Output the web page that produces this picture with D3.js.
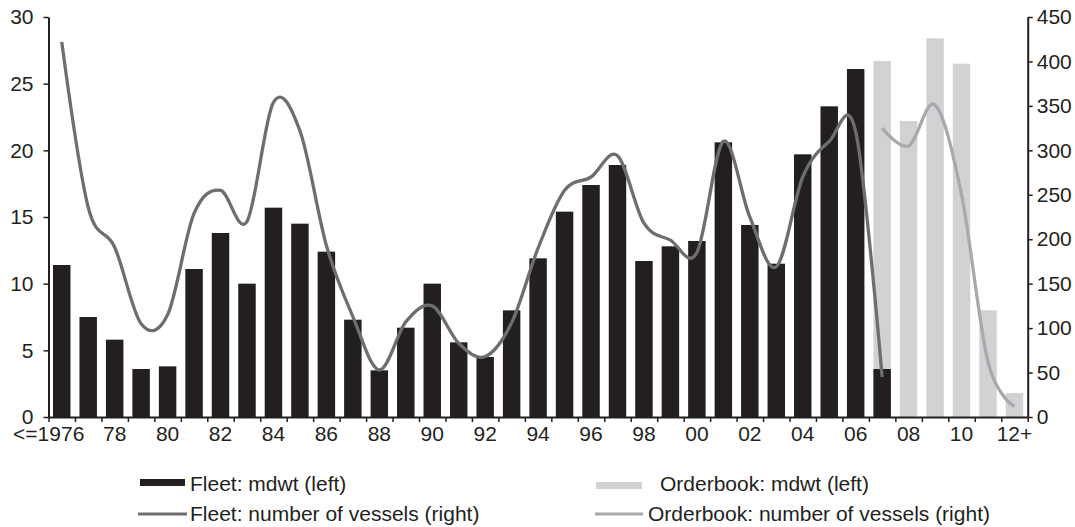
<!DOCTYPE html>
<html>
<head>
<meta charset="utf-8">
<script src="https://cdn.jsdelivr.net/npm/d3@7"></script>
<style>
  body { margin: 0; background: #fff; }
  svg { display: block; font-family: "Liberation Sans", Arial, sans-serif; }
  .axis text { font-size: 21px; fill: #231f20; }
  .axis path, .axis line { stroke: #231f20; }
  .legend text { font-size: 21px; fill: #231f20; }
</style>
</head>
<body>
<div id="chart"></div>
<script>
const categories = ["<=1976","77","78","79","80","81","82","83","84","85","86","87","88","89",
  "90","91","92","93","94","95","96","97","98","99","00","01","02","03","04","05","06","07",
  "08","09","10","11","12+"];

// mdwt, left axis
const fleetDwt = [11.4, 7.5, 5.8, 3.6, 3.8, 11.1, 13.8, 10.0, 15.7, 14.5, 12.4, 7.3, 3.5, 6.7,
  10.0, 5.6, 4.5, 8.0, 11.9, 15.4, 17.4, 18.9, 11.7, 12.8, 13.2, 20.6, 14.4, 11.5, 19.7, 23.3, 26.1, 3.6,
  null, null, null, null, null];
const orderDwt = [null, null, null, null, null, null, null, null, null, null, null, null, null, null,
  null, null, null, null, null, null, null, null, null, null, null, null, null, null, null, null, null, 26.7,
  22.2, 28.4, 26.5, 8.0, 1.8];

// number of vessels, right axis
const fleetVessels = [422, 236, 191, 105, 115, 229, 255, 220, 354, 322, 193, 113, 53, 107,
  125, 83, 68, 106, 190, 255, 270, 294, 218, 199, 185, 310, 225, 169, 270, 310, 321, 45,
  null, null, null, null, null];
const orderVessels = [null, null, null, null, null, null, null, null, null, null, null, null, null, null,
  null, null, null, null, null, null, null, null, null, null, null, null, null, null, null, null, null, 325,
  305, 351, 250, 62, 12];

const leftTicks = [0, 5, 10, 15, 20, 25, 30];
const rightTicks = [0, 50, 100, 150, 200, 250, 300, 350, 400, 450];
const xTickLabels = ["<=1976","78","80","82","84","86","88","90","92","94","96","98",
  "00","02","04","06","08","10","12+"];

const W = 1075, H = 527;
const margin = { t: 17, l: 48.5, r: 47.3, b: 110 };
const x0 = margin.l, x1 = W - margin.r, yTop = margin.t, yBot = H - margin.b;

const svg = d3.select("#chart").append("svg").attr("width", W).attr("height", H);

const x = d3.scaleBand().domain(categories).range([x0, x1]).paddingInner(0.34).paddingOuter(0.17);
const xi = d3.scaleLinear().domain([0, categories.length]).range([x0, x1]);
const yL = d3.scaleLinear().domain([0, 30]).range([yBot, yTop]);
const yR = d3.scaleLinear().domain([0, 450]).range([yBot, yTop]);
const bw = x.bandwidth();

const rows = categories.map((c, i) => ({
  c, fd: fleetDwt[i], od: orderDwt[i], fv: fleetVessels[i], ov: orderVessels[i]
}));

// bars
svg.append("g").selectAll("rect").data(rows.filter(d => d.od != null)).enter()
  .append("rect")
  .attr("x", d => x(d.c)).attr("width", bw)
  .attr("y", d => yL(d.od)).attr("height", d => yBot - yL(d.od))
  .attr("fill", "#d1d2d4");

svg.append("g").selectAll("rect").data(rows.filter(d => d.fd != null)).enter()
  .append("rect")
  .attr("x", d => x(d.c)).attr("width", bw)
  .attr("y", d => yL(d.fd)).attr("height", d => yBot - yL(d.fd))
  .attr("fill", "#231f20");

// smoothed lines
const line = key => d3.line()
  .defined(d => d[key] != null)
  .x(d => x(d.c) + bw / 2)
  .y(d => yR(d[key]))
  .curve(d3.curveCardinal.tension(0));

svg.append("path").datum(rows.filter(d => d.fv != null))
  .attr("d", line("fv")).attr("fill", "none")
  .attr("stroke", "#6d6e70").attr("stroke-width", 3.3);

svg.append("path").datum(rows.filter(d => d.ov != null))
  .attr("d", line("ov")).attr("fill", "none")
  .attr("stroke", "#a7a9ac").attr("stroke-width", 3.3);

// axes
const gl = svg.append("g").attr("class", "axis").attr("transform", "translate(" + x0 + ",0)")
  .call(d3.axisLeft(yL).tickValues(leftTicks).tickSize(5).tickSizeOuter(0).tickPadding(10));
const gr = svg.append("g").attr("class", "axis").attr("transform", "translate(" + x1 + ",0)")
  .call(d3.axisRight(yR).tickValues(rightTicks).tickSize(5).tickSizeOuter(0).tickPadding(4));
const gb = svg.append("g").attr("class", "axis").attr("transform", "translate(0," + yBot + ")")
  .call(d3.axisBottom(xi).tickValues(d3.range(0, categories.length + 1)).tickSize(5)
    .tickSizeOuter(0).tickFormat(""));
[gl, gr, gb].forEach(g => {
  g.select(".domain").attr("stroke-width", 2);
  g.selectAll(".tick line").attr("stroke-width", 1.5);
  g.selectAll("text").attr("font-family", null).attr("font-size", null);
});

svg.append("g").attr("class", "axis").selectAll("text").data(xTickLabels).enter()
  .append("text")
  .attr("x", d => x(d) + bw / 2)
  .attr("dx", (d, i) => i === 0 ? -13 : 0)
  .attr("y", yBot + 24)
  .attr("text-anchor", "middle")
  .text(d => d);

// legend
const lg = svg.append("g").attr("class", "legend");
lg.append("rect").attr("x", 140).attr("y", 479).attr("width", 45).attr("height", 7).attr("fill", "#231f20");
lg.append("text").attr("x", 190).attr("y", 491).text("Fleet: mdwt (left)");
lg.append("rect").attr("x", 596).attr("y", 482).attr("width", 46).attr("height", 7).attr("fill", "#d1d2d4");
lg.append("text").attr("x", 660).attr("y", 491).text("Orderbook: mdwt (left)");
lg.append("line").attr("x1", 138).attr("x2", 187).attr("y1", 514).attr("y2", 514)
  .attr("stroke", "#6d6e70").attr("stroke-width", 3);
lg.append("text").attr("x", 190).attr("y", 521).text("Fleet: number of vessels (right)");
lg.append("line").attr("x1", 595).attr("x2", 643).attr("y1", 514).attr("y2", 514)
  .attr("stroke", "#a7a9ac").attr("stroke-width", 3);
lg.append("text").attr("x", 648).attr("y", 521).text("Orderbook: number of vessels (right)");
</script>
</body>
</html>
